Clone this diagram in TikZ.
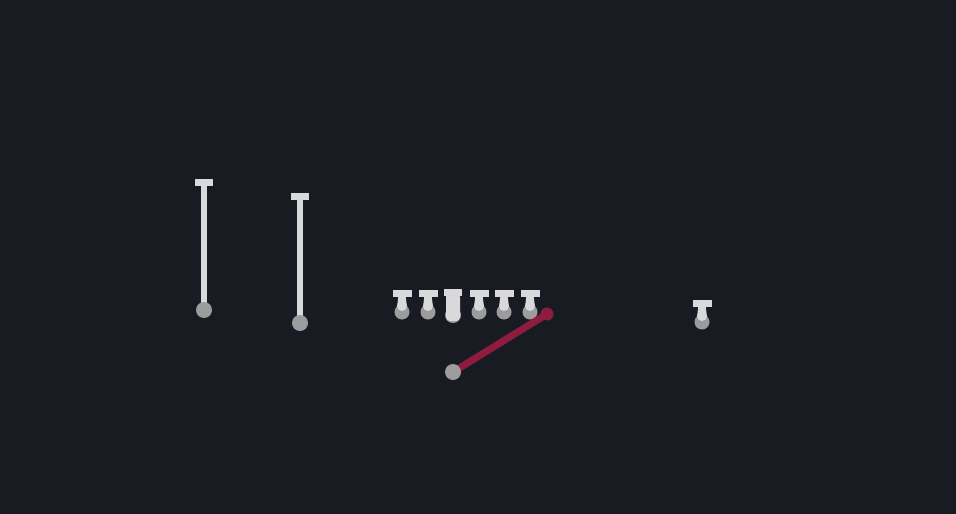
\documentclass[tikz,border=0pt]{standalone}
\begin{document}
\begin{tikzpicture}[x=1pt,y=-1pt,
  stem/.style={line width=6pt,draw=stemcol},
  capbar/.style={fill=stemcol},
  ballc/.style={fill=ballcol},
  redline/.style={line width=7pt,draw=redcol,line cap=round}]
\definecolor{bgcol}{HTML}{181C22}
\definecolor{stemcol}{HTML}{D9D9DC}
\definecolor{ballcol}{HTML}{9C9C9E}
\definecolor{redcol}{HTML}{8E1C3E}
\fill[bgcol] (0,0) rectangle (956,514);
\useasboundingbox (0,0) rectangle (956,514);
% tall pins
\foreach \x/\yt/\yb in {204/182/310, 300/196/323}{
  \draw[stem] (\x,\yt) -- (\x,\yb);
  \fill[capbar] (\x-9,\yt-3.5) rectangle (\x+9,\yt+3.5);
  \fill[ballc] (\x,\yb) circle (8);
}
% small pins
\foreach \x in {402,428,479,504,530,702}{
  \pgfmathsetmacro{\yo}{\x==702 ? 10 : 0}
  \begin{scope}[yshift=-\yo]
  \fill[ballc] (\x,312) circle (7.5);
  \fill[stemcol] (\x-3.5,295) -- (\x+3.5,295) -- (\x+5,307) -- (\x-5,307) -- cycle;
  \fill[stemcol] (\x,306) circle (5);
  \fill[capbar] (\x-9.5,289.5) rectangle (\x+9.5,296.5);
  \end{scope}
}
% bold pin
\fill[ballc] (453,315) circle (8);
\fill[stemcol, rounded corners=4pt] (446,293) rectangle (460,321);
\fill[capbar] (444,289) rectangle (462,296);
% red lever
\coordinate (rs) at (453,372);
\coordinate (re) at (547,314);
\draw[redline] (rs) -- (re);
\fill[redcol] (re) circle (6.5);
\fill[ballc] (rs) circle (8);
\end{tikzpicture}
\end{document}
